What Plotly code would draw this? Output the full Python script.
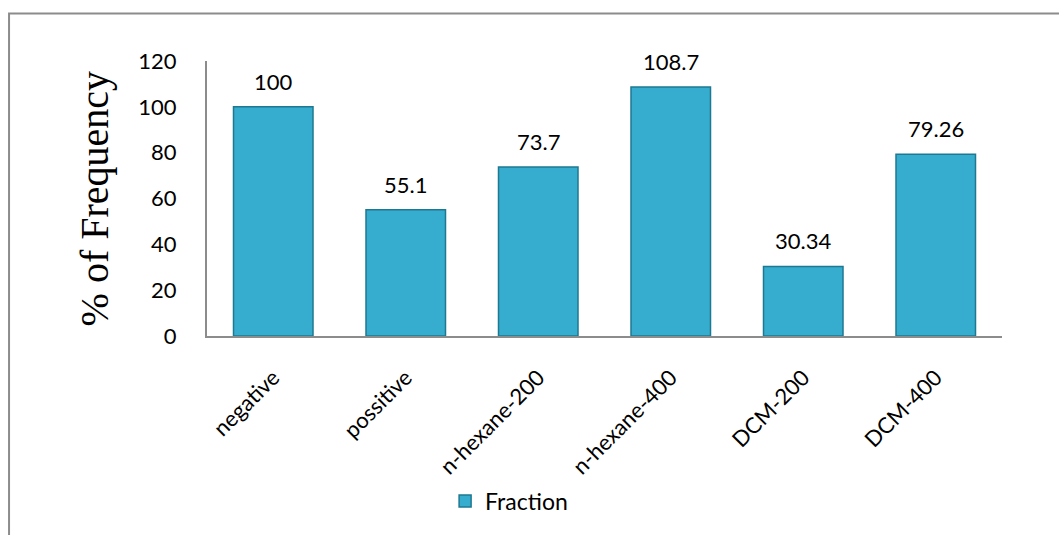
import plotly.graph_objects as go

categories = ["negative", "possitive", "n-hexane-200", "n-hexane-400", "DCM-200", "DCM-400"]
frequency = [100, 55.1, 73.7, 108.7, 30.34, 79.26]
value_labels = ["100", "55.1", "73.7", "108.7", "30.34", "79.26"]
y_ticks = [0, 20, 40, 60, 80, 100, 120]

SANS = "Lato, 'Open Sans', sans-serif"
SERIF = "'Liberation Serif', 'DejaVu Serif', serif"

fig = go.Figure()
fig.add_trace(go.Bar(
    x=categories,
    y=frequency,
    name="Fraction",
    marker=dict(color="#36ADCE", line=dict(color="#1E7891", width=1.5)),
    width=0.6,
))

# value labels above each bar
for cat, val, txt in zip(categories, frequency, value_labels):
    fig.add_annotation(x=cat, y=val, text=txt, showarrow=False,
                       yanchor="bottom", yshift=10,
                       font=dict(family=SANS, size=22, color="#000"))

# y axis title
fig.add_annotation(xref="paper", yref="paper", x=-0.141, y=0.5,
                   text="% of Frequency", textangle=-90, showarrow=False,
                   xanchor="center", yanchor="middle",
                   font=dict(family=SERIF, size=40, color="#000"))

# chart frame
fig.add_shape(type="rect", xref="paper", yref="paper",
              x0=-0.249, x1=1.3, y0=-1.0, y1=1.173,
              line=dict(color="#8C8C8C", width=2), fillcolor="rgba(0,0,0,0)",
              layer="below")

fig.update_layout(
    width=1059, height=535,
    margin=dict(l=207, r=57, t=61, b=196),
    paper_bgcolor="white", plot_bgcolor="white",
    font=dict(family=SANS, size=22, color="#000"),
    showlegend=True,
    legend=dict(orientation="h", x=0.38, y=-0.6, xanchor="center", yanchor="middle",
                font=dict(family=SANS, size=23, color="#000")),
    xaxis=dict(showline=True, linecolor="#8C8C8C", linewidth=2, tickangle=-45,
               showgrid=False, ticks="", ticklabelstandoff=18,
               tickfont=dict(family=SANS, size=22)),
    yaxis=dict(range=[0, 120], tickvals=y_ticks, showline=True, linecolor="#8C8C8C",
               linewidth=2, showgrid=False, zeroline=False, ticks="",
               ticklabelstandoff=24, tickfont=dict(family=SANS, size=22)),
)

fig.write_html("out.html")
